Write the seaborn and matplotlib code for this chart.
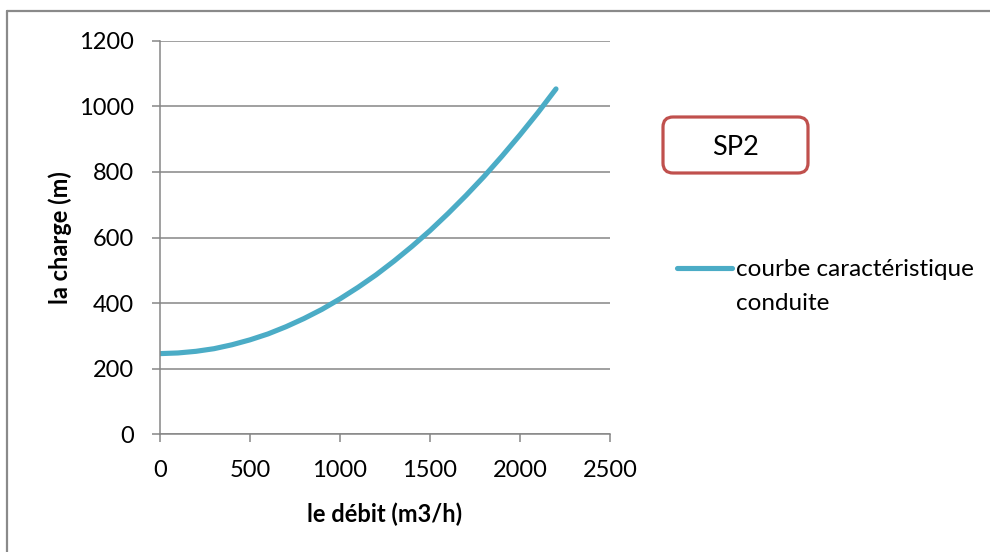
import matplotlib
matplotlib.use("Agg")
import matplotlib.pyplot as plt
import matplotlib.transforms as mtransforms
from matplotlib.lines import Line2D
from matplotlib.patches import FancyBboxPatch
import pandas as pd
import seaborn as sns

# Débit (m3/h) and charge (m) of the pipe characteristic curve
debit = [0, 100, 200, 300, 400, 500, 600, 700, 800, 900, 1000, 1100,
         1200, 1300, 1400, 1500, 1600, 1700, 1800, 1900, 2000, 2100, 2200]
charge = [246, 248, 253, 261, 273, 288, 306, 328, 353, 381, 413, 448,
          486, 528, 573, 621, 673, 728, 786, 848, 913, 981, 1053]

x_ticks = [0, 500, 1000, 1500, 2000, 2500]
y_ticks = [0, 200, 400, 600, 800, 1000, 1200]
x_title = "le débit (m3/h)"
y_title = "la charge (m)"
series_name = "courbe caractéristique"
series_name_2 = "conduite"
box_title = "SP2"

LINE = "#4BACC6"
GRID = "#868686"
RED = "#C0504D"

sns.set_theme(style="white")
plt.rcParams["font.family"] = ["Lato", "DejaVu Sans"]

W, H = 990, 552
fig = plt.figure(figsize=(W / 100, H / 100), dpi=100)
ax = fig.add_axes([160 / W, (H - 434.3) / H, 450 / W, 393.6 / H])

df = pd.DataFrame({"debit": debit, "charge": charge})
sns.lineplot(data=df, x="debit", y="charge", ax=ax, color=LINE,
             linewidth=3.7, solid_capstyle="round", legend=False)

ax.set_xlim(0, 2500)
ax.set_ylim(0, 1200)
ax.set_xticks(x_ticks)
ax.set_yticks(y_ticks)
ax.yaxis.grid(True, color=GRID, linewidth=1.1)
ax.set_axisbelow(True)
for s in ("top", "right"):
    ax.spines[s].set_visible(False)
for s in ("left", "bottom"):
    ax.spines[s].set_color(GRID)
    ax.spines[s].set_linewidth(1.1)
ax.tick_params(axis="both", direction="out", length=6, width=1.1,
               color=GRID, labelsize=17, labelcolor="black")
ax.tick_params(axis="y", pad=12.5, left=True)
ax.tick_params(axis="x", pad=12.5, bottom=True)

ax.set_xlabel(x_title, fontsize=17, fontweight="bold", color="black")
ax.set_ylabel(y_title, fontsize=17, fontweight="bold", color="black")
ax.xaxis.set_label_coords(0.5, (434.3 - 503) / 393.6)
ax.yaxis.set_label_coords((72 - 160) / 450, 0.5)

# Legend entry drawn at the right of the plot
fy = lambda py: (H - py) / H
fig.add_artist(Line2D([677 / W, 732 / W], [fy(268), fy(268)], color=LINE,
                      linewidth=3.7, solid_capstyle="round",
                      transform=fig.transFigure))
fig.text(736 / W, fy(268), series_name, fontsize=17.5, ha="left",
         va="center_baseline", color="black")
fig.text(736 / W, fy(302), series_name_2, fontsize=17.5, ha="left",
         va="center_baseline", color="black")

# Title box
box = FancyBboxPatch((663, H - 173), 145, 56,
                     boxstyle="round,pad=0,rounding_size=10",
                     transform=mtransforms.IdentityTransform(),
                     facecolor="white", edgecolor=RED, linewidth=2.3)
fig.add_artist(box)
fig.text(736 / W, fy(145), box_title, fontsize=19.5, ha="center",
         va="center_baseline", color="black")

# Chart area frame (top and left edges)
fig.add_artist(Line2D([7 / W, 1.0], [fy(10.7), fy(10.7)], color="#8A8A8A",
                      linewidth=1.6, transform=fig.transFigure))
fig.add_artist(Line2D([7 / W, 7 / W], [fy(10.7), 0.0], color="#8A8A8A",
                      linewidth=1.6, transform=fig.transFigure))

fig.savefig("out.png", dpi=100)
